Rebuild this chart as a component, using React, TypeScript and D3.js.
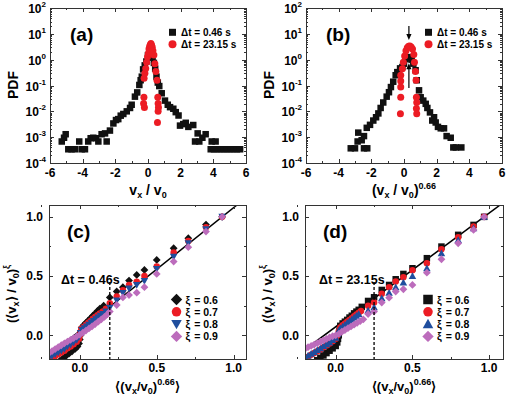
import React from "react";
import * as d3 from "d3";

const FONT = "'Liberation Sans', Arial, Helvetica, sans-serif";
const BLACK = "#111111";
const RED = "#ec1c24";
const BLUE = "#1f4e9e";
const PINK = "#bc6cbc";

type Pt = [number, number];

// (a) PDF vs v_x / v0
const aShort: Pt[] = [
  [-5.28, 6.8e-4], [-5.14, 9.5e-4], [-5.04, 1.3e-3], [-4.88, 3.4e-4], [-4.68, 3.4e-4],
  [-4.47, 3.4e-4], [-4.21, 6.8e-4], [-4.06, 3.4e-4], [-3.86, 3.4e-4], [-3.66, 6.8e-4],
  [-3.51, 9.1e-4], [-3.35, 9.5e-4], [-3.18, 9.1e-4], [-3.04, 6.8e-4], [-2.84, 1.3e-3],
  [-2.63, 1.4e-3], [-2.53, 6.8e-4], [-2.33, 1.8e-3], [-2.12, 3.4e-3], [-1.96, 4.6e-3],
  [-1.82, 5.0e-3], [-1.67, 6.8e-3], [-1.51, 7.9e-3], [-1.3, 1.0e-2], [-1.1, 1.35e-2],
  [-1.0, 1.8e-2], [-0.8, 3.7e-2], [-0.66, 5.4e-2], [-0.53, 0.105], [-0.45, 0.16],
  [-0.38, 0.22], [-0.3, 0.42], [-0.2, 0.6], [-0.1, 0.85], [0.0, 1.5], [0.08, 1.75],
  [0.18, 1.75], [0.28, 1.2], [0.36, 0.75], [0.44, 0.45], [0.52, 0.22], [0.6, 0.13],
  [0.69, 0.095], [0.84, 5.0e-2], [1.04, 2.6e-2], [1.21, 1.8e-2], [1.35, 1.45e-2],
  [1.55, 1.26e-2], [1.7, 9.3e-3], [1.87, 6.9e-3], [1.96, 2.8e-3], [2.16, 3.2e-3],
  [2.31, 3.6e-3], [2.47, 2.5e-3], [2.77, 2.95e-3], [2.88, 6.8e-4], [3.04, 1.4e-3],
  [3.14, 6.8e-4], [3.33, 9.5e-4], [3.53, 1.3e-3], [3.84, 3.4e-4], [3.9, 6.8e-4],
  [4.14, 6.8e-4], [4.04, 3.4e-4], [4.24, 3.4e-4], [4.44, 3.4e-4], [4.64, 3.4e-4],
  [4.84, 3.4e-4], [5.04, 3.4e-4], [5.24, 3.4e-4], [5.44, 3.4e-4], [5.64, 3.4e-4],
];
const aLong: Pt[] = [
  [-0.25, 0.035], [-0.27, 0.02], [-0.22, 0.014], [-0.24, 0.19], [-0.19, 0.3],
  [-0.14, 0.46], [-0.08, 0.8], [-0.03, 1.3], [0.02, 1.75], [0.06, 2.6], [0.1, 3.2],
  [0.14, 3.8], [0.18, 4.2], [0.22, 3.6], [0.26, 3.0], [0.3, 2.2], [0.36, 1.5],
  [0.42, 0.7], [0.48, 0.35], [0.55, 0.16], [0.6, 0.035], [0.62, 0.02], [0.64, 0.014],
  [0.62, 0.01], [0.58, 0.0037],
];

// (b) PDF vs (v_x / v0)^0.66
const bShort: Pt[] = [
  [-3.26, 3.7e-4], [-3.0, 3.7e-4], [-2.84, 6.8e-4], [-2.8, 1.5e-3], [-2.59, 7.6e-4],
  [-2.45, 1.1e-3], [-2.45, 3.7e-4], [-2.25, 3.7e-4], [-2.28, 2.3e-3], [-2.08, 3.0e-3],
  [-1.88, 4.4e-3], [-1.71, 5.9e-3], [-1.57, 8.3e-3], [-1.43, 1.35e-2], [-1.27, 2.2e-2],
  [-1.06, 3.7e-2], [-0.92, 5.5e-2], [-0.8, 8.7e-2], [-0.66, 0.14], [-0.51, 0.25],
  [-0.41, 0.33], [-0.24, 0.46], [-0.1, 0.52], [0.0, 0.7], [0.1, 1.05], [0.24, 1.25],
  [0.37, 1.25], [0.47, 1.0], [0.57, 0.7], [0.71, 0.39], [0.78, 0.16], [0.92, 0.065],
  [1.02, 0.035], [1.18, 0.026], [1.33, 0.0195], [1.43, 0.0135], [1.59, 9.1e-3],
  [1.73, 4.4e-3], [1.84, 5.9e-3], [1.94, 3.7e-3], [2.08, 2.5e-3], [2.25, 2.2e-3],
  [2.45, 2.2e-3], [2.61, 1.1e-3], [2.86, 9.5e-4], [3.02, 4e-4], [3.18, 4e-4], [3.51, 4e-4],
];
const bLong: Pt[] = [
  [-0.2, 0.25], [-0.2, 0.15], [-0.2, 0.087], [-0.2, 0.035], [-0.22, 0.008], [-0.1, 0.45],
  [-0.04, 0.8], [0.04, 1.4], [0.12, 2.2], [0.2, 2.9], [0.28, 3.3], [0.36, 3.4],
  [0.44, 3.1], [0.52, 2.6], [0.6, 1.6], [0.64, 0.8], [0.7, 0.35], [0.74, 0.16],
  [0.76, 0.035], [0.78, 0.022], [0.76, 0.013], [0.78, 0.008],
];
// arrows in (b): x position, pdf start, pdf end
const bArrows = [
  { x: 0.3, from: 20, to: 5.8 },
  { x: 0.3, from: 0.08, to: 0.72 },
];

const pdfXTicks = [-6, -4, -2, 0, 2, 4, 6];
const pdfExponents = [-4, -3, -2, -1, 0, 1, 2];
const scaledTicks = [0, 0.5, 1];
const xiLabels = ["0.6", "0.7", "0.8", "0.9"];
const dtLabels = ["0.46", "23.15"];

// (c) Δt = 0.46 s
const c06: Pt[] = [
  [-0.13, -0.215], [-0.11, -0.195], [-0.09, -0.175], [-0.07, -0.155], [-0.05, -0.135],
  [-0.03, -0.115], [-0.015, -0.095], [-0.005, -0.07], [0.0, -0.035], [0.005, 0.0],
  [0.008, 0.035], [0.012, 0.065], [0.025, 0.085], [0.04, 0.105], [0.055, 0.125],
  [0.07, 0.145], [0.085, 0.165], [0.1, 0.185], [0.115, 0.205], [0.13, 0.225],
  [0.155, 0.25], [0.195, 0.32], [0.24, 0.37], [0.28, 0.406], [0.32, 0.462],
  [0.37, 0.51], [0.42, 0.552], [0.5, 0.636], [0.61, 0.735], [0.705, 0.82],
  [0.82, 0.935], [0.925, 1.0],
];
const c07: Pt[] = [
  [-0.2, -0.205], [-0.18, -0.19], [-0.16, -0.175], [-0.14, -0.16], [-0.12, -0.145],
  [-0.1, -0.13], [-0.08, -0.11], [-0.06, -0.095], [-0.04, -0.075], [-0.02, -0.055],
  [-0.005, -0.03], [0.0, 0.0], [0.005, 0.03], [0.01, 0.055], [0.025, 0.07],
  [0.04, 0.09], [0.055, 0.105], [0.07, 0.12], [0.085, 0.14], [0.1, 0.155],
  [0.115, 0.17], [0.13, 0.185], [0.15, 0.2], [0.17, 0.225], [0.195, 0.27],
  [0.24, 0.327], [0.28, 0.38], [0.32, 0.425], [0.37, 0.453], [0.42, 0.501],
  [0.5, 0.58], [0.61, 0.698], [0.705, 0.797], [0.82, 0.913], [0.925, 1.0],
];
const c08: Pt[] = [
  [-0.2, -0.19], [-0.18, -0.175], [-0.16, -0.16], [-0.14, -0.145], [-0.12, -0.13],
  [-0.1, -0.115], [-0.08, -0.095], [-0.06, -0.08], [-0.04, -0.06], [-0.02, -0.04],
  [-0.005, -0.015], [0.005, 0.02], [0.015, 0.045], [0.03, 0.06], [0.045, 0.075],
  [0.06, 0.09], [0.075, 0.105], [0.09, 0.12], [0.105, 0.135], [0.12, 0.15],
  [0.135, 0.165], [0.15, 0.18], [0.17, 0.2], [0.195, 0.233], [0.24, 0.293],
  [0.28, 0.357], [0.32, 0.395], [0.37, 0.425], [0.42, 0.459], [0.5, 0.56],
  [0.61, 0.664], [0.705, 0.778], [0.82, 0.896], [0.925, 1.0],
];
const c09: Pt[] = [
  [-0.2, -0.15], [-0.18, -0.133], [-0.16, -0.116], [-0.14, -0.1], [-0.12, -0.084],
  [-0.1, -0.068], [-0.08, -0.053], [-0.06, -0.038], [-0.04, -0.023], [-0.02, -0.009],
  [0.0, 0.005], [0.02, 0.022], [0.04, 0.04], [0.06, 0.058], [0.08, 0.076],
  [0.1, 0.095], [0.12, 0.115], [0.14, 0.135], [0.16, 0.155], [0.18, 0.178],
  [0.195, 0.2], [0.24, 0.256], [0.28, 0.32], [0.32, 0.34], [0.37, 0.36],
  [0.42, 0.406], [0.5, 0.518], [0.61, 0.622], [0.705, 0.744], [0.82, 0.876], [0.925, 1.0],
];
const cFit: Pt[] = [[-0.2, -0.17], [1.1, 1.182]];
const cCut = 0.195;

// (d) Δt = 23.15 s
const d06: Pt[] = [
  [-0.12, -0.21], [-0.1, -0.19], [-0.08, -0.17], [-0.06, -0.15], [-0.04, -0.13],
  [-0.02, -0.11], [0.0, -0.09], [0.01, -0.06], [0.015, -0.03], [0.02, 0.0],
  [0.025, 0.04], [0.03, 0.08], [0.045, 0.1], [0.06, 0.115], [0.075, 0.13],
  [0.09, 0.15], [0.105, 0.165], [0.12, 0.185], [0.135, 0.2], [0.15, 0.215],
  [0.17, 0.24], [0.211, 0.29], [0.25, 0.321], [0.3, 0.383], [0.348, 0.425],
  [0.391, 0.473], [0.441, 0.518], [0.5, 0.566], [0.594, 0.651], [0.689, 0.749],
  [0.798, 0.848], [0.898, 0.932], [0.967, 1.0],
];
const d07: Pt[] = [
  [-0.2, -0.195], [-0.18, -0.18], [-0.16, -0.165], [-0.14, -0.15], [-0.12, -0.135],
  [-0.1, -0.12], [-0.08, -0.1], [-0.06, -0.085], [-0.04, -0.07], [-0.02, -0.05],
  [0.0, -0.03], [0.012, 0.0], [0.02, 0.035], [0.03, 0.065], [0.045, 0.085],
  [0.06, 0.1], [0.075, 0.115], [0.09, 0.13], [0.105, 0.145], [0.12, 0.16],
  [0.135, 0.175], [0.15, 0.19], [0.165, 0.205], [0.211, 0.25], [0.25, 0.276],
  [0.3, 0.35], [0.348, 0.406], [0.391, 0.454], [0.441, 0.49], [0.5, 0.55],
  [0.594, 0.608], [0.689, 0.727], [0.798, 0.828], [0.898, 0.918], [0.967, 1.0],
];
const d08: Pt[] = [
  [-0.2, -0.185], [-0.18, -0.17], [-0.16, -0.155], [-0.14, -0.14], [-0.12, -0.125],
  [-0.1, -0.11], [-0.08, -0.09], [-0.06, -0.075], [-0.04, -0.06], [-0.02, -0.04],
  [0.0, -0.02], [0.012, 0.01], [0.02, 0.04], [0.03, 0.06], [0.045, 0.075],
  [0.06, 0.09], [0.075, 0.105], [0.09, 0.12], [0.105, 0.135], [0.12, 0.15],
  [0.135, 0.165], [0.15, 0.18], [0.211, 0.21], [0.25, 0.237], [0.3, 0.313],
  [0.348, 0.36], [0.391, 0.406], [0.441, 0.445], [0.5, 0.501], [0.594, 0.566],
  [0.689, 0.693], [0.798, 0.805], [0.898, 0.904], [0.967, 1.0],
];
const d09: Pt[] = [
  [-0.2, -0.115], [-0.18, -0.1], [-0.16, -0.09], [-0.14, -0.078], [-0.12, -0.066],
  [-0.1, -0.054], [-0.08, -0.042], [-0.06, -0.03], [-0.04, -0.018], [-0.02, -0.008],
  [0.0, 0.0], [0.02, 0.012], [0.04, 0.03], [0.06, 0.045], [0.08, 0.06],
  [0.1, 0.075], [0.12, 0.09], [0.14, 0.105], [0.16, 0.12], [0.18, 0.135],
  [0.211, 0.18], [0.25, 0.2], [0.3, 0.276], [0.348, 0.318], [0.391, 0.37],
  [0.441, 0.389], [0.5, 0.425], [0.594, 0.529], [0.689, 0.642], [0.798, 0.777],
  [0.898, 0.89], [0.967, 1.0],
];
const dFit: Pt[] = [[-0.2, -0.12], [1.1, 1.128]];
const dCut = 0.25;
const cutTop = 0.45;

// scales
const pdfY = d3.scaleLog().domain([1e-4, 1e2]).range([163, 8]);
const aX = d3.scaleLinear().domain([-6, 6]).range([50, 246]);
const bX = d3.scaleLinear().domain([-6, 6]).range([306, 502]);
const cX = d3.scaleLinear().domain([-0.2, 1.08]).range([49, 246]);
const dX = d3.scaleLinear().domain([-0.2, 1.09]).range([305, 503]);
const sY = d3.scaleLinear().domain([-0.2, 1.1]).range([359, 205]);

type Shape = "square" | "circle" | "diamond" | "down" | "up";

function Mark({ shape, x, y, s, fill }: { shape: Shape; x: number; y: number; s: number; fill: string }) {
  const h = s / 2;
  if (shape === "square") return <rect x={x - h} y={y - h} width={s} height={s} fill={fill} />;
  if (shape === "circle") return <circle cx={x} cy={y} r={h} fill={fill} />;
  if (shape === "diamond") {
    const k = h * 1.2;
    return <path d={`M${x},${y - k}L${x + k},${y}L${x},${y + k}L${x - k},${y}Z`} fill={fill} />;
  }
  if (shape === "down")
    return <path d={`M${x - h},${y - h * 0.8}L${x + h},${y - h * 0.8}L${x},${y + h}Z`} fill={fill} />;
  return <path d={`M${x - h},${y + h * 0.8}L${x + h},${y + h * 0.8}L${x},${y - h}Z`} fill={fill} />;
}

function Frame({ xs, ys, xMajor, xMinor, yMajor, yMinor }: any) {
  const [x0, x1] = xs.range();
  const [y0, y1] = ys.range();
  const tick = (v: number, axis: "x" | "y", len: number, key: string) => {
    if (axis === "x") {
      const p = Math.round(xs(v)) + 0.5;
      return (
        <g key={key}>
          <line x1={p} x2={p} y1={y0} y2={y0 - len} />
          <line x1={p} x2={p} y1={y1} y2={y1 + len} />
        </g>
      );
    }
    const p = Math.round(ys(v)) + 0.5;
    return (
      <g key={key}>
        <line x1={x0} x2={x0 + len} y1={p} y2={p} />
        <line x1={x1} x2={x1 - len} y1={p} y2={p} />
      </g>
    );
  };
  return (
    <g stroke="#333" strokeWidth={1} fill="none" shapeRendering="crispEdges">
      <rect x={x0 + 0.5} y={y1 + 0.5} width={x1 - x0} height={y0 - y1} />
      {xMajor.map((v: number) => tick(v, "x", 4, "xM" + v))}
      {xMinor.map((v: number) => tick(v, "x", 2, "xm" + v))}
      {yMajor.map((v: number) => tick(v, "y", 4, "yM" + v))}
      {yMinor.map((v: number) => tick(v, "y", 2, "ym" + v))}
    </g>
  );
}

const logMinor: number[] = [];
for (let e = -4; e < 2; e++) for (let m = 2; m <= 9; m++) logMinor.push(m * 10 ** e);

function PdfPanel({ xs, id, label, xTitle, short, long, arrows }: any) {
  const [x0, x1] = xs.range();
  const [yb, yt] = pdfY.range();
  const cx = (x0 + x1) / 2;
  return (
    <g>
      <defs>
        <clipPath id={id}>
          <rect x={x0} y={yt} width={x1 - x0} height={yb - yt} />
        </clipPath>
      </defs>
      <g clipPath={`url(#${id})`}>
        {short.map((d: Pt, i: number) => (
          <Mark key={"s" + i} shape="square" x={xs(d[0])} y={pdfY(d[1])} s={6.5} fill={BLACK} />
        ))}
        {long.map((d: Pt, i: number) => (
          <Mark key={"l" + i} shape="circle" x={xs(d[0])} y={pdfY(d[1])} s={7} fill={RED} />
        ))}
        {(arrows || []).map((a: any, i: number) => {
          const px = xs(a.x);
          const ya = pdfY(a.from);
          const yb2 = pdfY(a.to);
          const dir = yb2 > ya ? 1 : -1;
          return (
            <g key={"a" + i}>
              <line x1={px} x2={px} y1={ya} y2={yb2 - dir * 5} stroke="#000" strokeWidth={1.2} />
              <path d={`M${px - 2.6},${yb2 - dir * 6}L${px + 2.6},${yb2 - dir * 6}L${px},${yb2}Z`} fill="#000" />
            </g>
          );
        })}
      </g>
      <Frame xs={xs} ys={pdfY} xMajor={pdfXTicks} xMinor={d3.range(-5, 6, 2)}
        yMajor={pdfExponents.map((e) => 10 ** e)} yMinor={logMinor} />
      {pdfXTicks.map((v) => (
        <text key={"xt" + v} x={xs(v)} y={yb + 14} textAnchor="middle" fontSize={12} fontWeight="bold">{v}</text>
      ))}
      {pdfExponents.map((e) => (
        <text key={"yt" + e} x={x0 - 4} y={pdfY(10 ** e) + 5} textAnchor="end" fontSize={12} fontWeight="bold">
          10<tspan fontSize={8} dy={-6}>{e}</tspan>
        </text>
      ))}
      <text transform={`translate(${x0 - 32},85) rotate(-90)`} textAnchor="middle" fontSize={14} fontWeight="bold">PDF</text>
      <text x={x0 + 20} y={41} fontSize={19} fontWeight="bold">{label}</text>
      <text x={cx} y={195} textAnchor="middle" fontSize={14} fontWeight="bold">{xTitle}</text>
      <Mark shape="square" x={x1 - 73.5} y={32.3} s={7} fill={BLACK} />
      <Mark shape="circle" x={x1 - 73.5} y={44.3} s={8} fill={RED} />
      <text x={x1 - 65} y={35.8} fontSize={10} fontWeight="bold">Δt = {dtLabels[0]} s</text>
      <text x={x1 - 65} y={47.8} fontSize={10} fontWeight="bold">Δt = {dtLabels[1]} s</text>
    </g>
  );
}

const xiShapes: Shape[][] = [
  ["diamond", "circle", "down", "diamond"],
  ["square", "circle", "up", "diamond"],
];
const xiColors = [BLACK, RED, BLUE, PINK];
const xiSizes = [6.5, 6.5, 7.5, 6.5];

function ScalePanel({ xs, id, label, series, fit, cut, dt, shapes, legendX, dtX }: any) {
  const [x0, x1] = xs.range();
  const [yb, yt] = sY.range();
  const cx = (x0 + x1) / 2;
  const line = d3.line<Pt>().x((d) => xs(d[0])).y((d) => sY(d[1]));
  return (
    <g>
      <defs>
        <clipPath id={id}>
          <rect x={x0} y={yt} width={x1 - x0} height={yb - yt} />
        </clipPath>
      </defs>
      <g clipPath={`url(#${id})`}>
        <path d={line(fit) || ""} stroke="#000" strokeWidth={1.5} fill="none" />
        {series.map((pts: Pt[], k: number) =>
          pts.map((d, i) => (
            <Mark key={k + "-" + i} shape={shapes[k]} x={xs(d[0])} y={sY(d[1])} s={xiSizes[k]} fill={xiColors[k]} />
          ))
        )}
        <line x1={xs(cut)} x2={xs(cut)} y1={sY(cutTop)} y2={yb} stroke="#000" strokeWidth={1.3} strokeDasharray="3,2" />
      </g>
      <Frame xs={xs} ys={sY} xMajor={scaledTicks} xMinor={[-0.25, 0.25, 0.75]}
        yMajor={scaledTicks} yMinor={[0.25, 0.75]} />
      {scaledTicks.map((v) => (
        <text key={"xt" + v} x={xs(v)} y={yb + 13} textAnchor="middle" fontSize={12} fontWeight="bold">{v.toFixed(1)}</text>
      ))}
      {scaledTicks.map((v) => (
        <text key={"yt" + v} x={x0 - 6} y={sY(v) + 4.3} textAnchor="end" fontSize={12} fontWeight="bold">{v.toFixed(1)}</text>
      ))}
      <text transform={`translate(${x0 - 33},294) rotate(-90)`} textAnchor="middle" fontSize={13} fontWeight="bold">
        (⟨v<tspan fontSize={9} dy={3}>x</tspan><tspan dy={-3}>⟩ / v</tspan><tspan fontSize={9} dy={3}>0</tspan>
        <tspan dy={-3}>)</tspan><tspan fontSize={9} dy={-6}>ξ</tspan>
      </text>
      <text x={cx} y={391} textAnchor="middle" fontSize={13} fontWeight="bold">
        ⟨(v<tspan fontSize={9} dy={3}>x</tspan><tspan dy={-3}>/v</tspan><tspan fontSize={9} dy={3}>0</tspan>
        <tspan dy={-3}>)</tspan><tspan fontSize={9} dy={-6}>0.66</tspan><tspan dy={6}>⟩</tspan>
      </text>
      <text x={x0 + 18} y={238} fontSize={19} fontWeight="bold">{label}</text>
      <text x={dtX} y={284} fontSize={12.5} fontWeight="bold">Δt = {dt}s</text>
      {xiLabels.map((s, k) => (
        <g key={"lg" + k}>
          <Mark shape={shapes[k]} x={legendX} y={299.5 + k * 12.3} s={k === 2 ? 10.5 : 9.5} fill={xiColors[k]} />
          <text x={legendX + 9} y={303.5 + k * 12.3} fontSize={10.5} fontWeight="bold">
            ξ<tspan dx={4}>= {s}</tspan>
          </text>
        </g>
      ))}
    </g>
  );
}

export default function App() {
  const vTitle = (
    <>
      v<tspan fontSize={9} dy={3}>x</tspan><tspan dy={-3}> / v</tspan><tspan fontSize={9} dy={3}>0</tspan>
    </>
  );
  const vpTitle = (
    <>
      (v<tspan fontSize={9} dy={3}>x</tspan><tspan dy={-3}> / v</tspan><tspan fontSize={9} dy={3}>0</tspan>
      <tspan dy={-3}>)</tspan><tspan fontSize={9} dy={-6}>0.66</tspan>
    </>
  );
  return (
    <svg width={507} height={397} style={{ position: "absolute", left: 0, top: 0, background: "#fff" }}
      fontFamily={FONT}>
      <PdfPanel xs={aX} id="clipA" label="(a)" xTitle={vTitle} short={aShort} long={aLong} />
      <PdfPanel xs={bX} id="clipB" label="(b)" xTitle={vpTitle} short={bShort} long={bLong} arrows={bArrows} />
      <ScalePanel xs={cX} id="clipC" label="(c)" series={[c06, c07, c08, c09]} fit={cFit} cut={cCut}
        dt={dtLabels[0]} shapes={xiShapes[0]} legendX={176.5} dtX={61} />
      <ScalePanel xs={dX} id="clipD" label="(d)" series={[d06, d07, d08, d09]} fit={dFit} cut={dCut}
        dt={dtLabels[1]} shapes={xiShapes[1]} legendX={428} dtX={319} />
    </svg>
  );
}
